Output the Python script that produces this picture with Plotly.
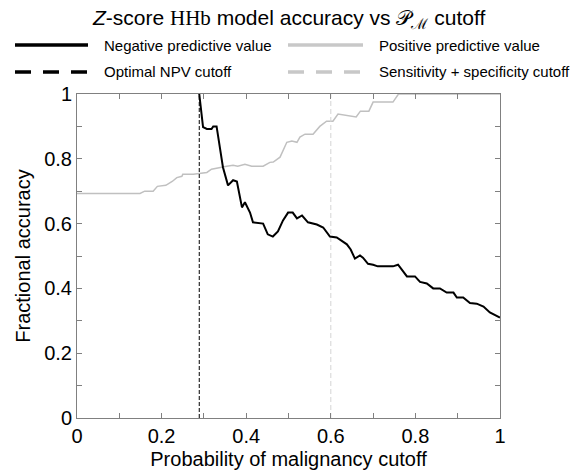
import plotly.graph_objects as go

# ---------------- data ----------------
npv_x = [0.289, 0.298, 0.307, 0.318, 0.322, 0.330, 0.345, 0.357, 0.369, 0.378,
         0.390, 0.397, 0.409, 0.416, 0.440, 0.451, 0.463, 0.475, 0.487, 0.499,
         0.510, 0.520, 0.532, 0.546, 0.567, 0.582, 0.598, 0.614, 0.638, 0.647,
         0.657, 0.669, 0.676, 0.688, 0.700, 0.711, 0.747, 0.759, 0.780, 0.799,
         0.811, 0.827, 0.842, 0.858, 0.874, 0.890, 0.898, 0.913, 0.929, 0.945,
         0.961, 0.976, 1.000]
npv_y = [1.000, 0.898, 0.892, 0.892, 0.900, 0.900, 0.774, 0.718, 0.734, 0.730,
         0.650, 0.666, 0.634, 0.604, 0.600, 0.567, 0.560, 0.576, 0.610, 0.634,
         0.634, 0.616, 0.625, 0.604, 0.597, 0.588, 0.560, 0.557, 0.536, 0.520,
         0.492, 0.502, 0.495, 0.476, 0.473, 0.468, 0.468, 0.473, 0.437, 0.437,
         0.420, 0.415, 0.400, 0.400, 0.387, 0.387, 0.372, 0.372, 0.355, 0.353,
         0.344, 0.326, 0.310]

ppv_x = [0.000, 0.149, 0.160, 0.180, 0.190, 0.210, 0.225, 0.236, 0.248, 0.250,
         0.275, 0.290, 0.307, 0.318, 0.338, 0.354, 0.369, 0.380, 0.397, 0.413,
         0.440, 0.456, 0.464, 0.480, 0.496, 0.508, 0.520, 0.527, 0.539, 0.558,
         0.574, 0.590, 0.605, 0.617, 0.660, 0.670, 0.690, 0.700, 0.747, 0.760,
         1.000]
ppv_y = [0.693, 0.693, 0.700, 0.700, 0.715, 0.718, 0.730, 0.742, 0.746, 0.752,
         0.752, 0.755, 0.758, 0.768, 0.774, 0.777, 0.780, 0.777, 0.783, 0.777,
         0.777, 0.789, 0.790, 0.805, 0.851, 0.855, 0.851, 0.867, 0.876, 0.876,
         0.900, 0.916, 0.916, 0.938, 0.929, 0.947, 0.947, 0.975, 0.975, 1.000,
         1.000]

npv_cutoff = 0.289
sens_spec_cutoff = 0.600

series_names = ["Negative predictive value", "Positive predictive value",
                "Optimal NPV cutoff", "Sensitivity + specificity cutoff"]
tick_vals = [0.0, 0.1, 0.2, 0.3, 0.4, 0.5, 0.6, 0.7, 0.8, 0.9, 1.0]
tick_text = ["0", "", "0.2", "", "0.4", "", "0.6", "", "0.8", "", "1"]

# ---------------- styling ----------------
FONT = "Liberation Sans, Arial, sans-serif"
BLACK = "#000000"
LIGHT = "#c0c0c0"
LEG_LIGHT = "#c8c8c8"
LIGHT_DASH = "#d4d4d4"
AXIS = "#808080"

W, H = 580, 476
OFF = 8  # page body margin
# plot area in page pixels: x 77..500, y 94..418
L = 77 - OFF
T = 94 - OFF
R = W - (500 - OFF)
B = H - (418 - OFF)
PW, PH = W - L - R, H - T - B


def px_x(px):
    return (px - OFF - L) / PW


def px_y(py):
    return (H - B - (py - OFF)) / PH


fig = go.Figure()

fig.add_trace(go.Scatter(x=ppv_x, y=ppv_y, mode="lines", name=series_names[1],
                         line=dict(color=LIGHT, width=1.5), showlegend=False))
fig.add_trace(go.Scatter(x=[npv_cutoff, npv_cutoff], y=[0, 1], mode="lines",
                         name=series_names[2],
                         line=dict(color=BLACK, width=1, dash="4px,2px"),
                         showlegend=False))
fig.add_trace(go.Scatter(x=[sens_spec_cutoff, sens_spec_cutoff], y=[0, 1], mode="lines",
                         name=series_names[3],
                         line=dict(color=LIGHT_DASH, width=1, dash="5px,3px"),
                         showlegend=False))
fig.add_trace(go.Scatter(x=npv_x, y=npv_y, mode="lines", name=series_names[0],
                         line=dict(color=BLACK, width=2), showlegend=False))

# ---------------- custom legend ----------------
legend_items = [
    (series_names[0], BLACK, "solid", 15, 88, 102, 45),
    (series_names[1], LEG_LIGHT, "solid", 288, 363, 377, 45),
    (series_names[2], BLACK, "16px,12px", 15, 88, 102, 72),
    (series_names[3], LEG_LIGHT, "16px,12px", 288, 363, 377, 72),
]
for name, col, dash, x0, x1, tx, yy in legend_items:
    fig.add_shape(type="line", xref="paper", yref="paper",
                  x0=px_x(x0), x1=px_x(x1), y0=px_y(yy), y1=px_y(yy),
                  line=dict(color=col, width=3.5, dash=dash))
    fig.add_annotation(xref="paper", yref="paper", x=px_x(tx), y=px_y(yy),
                       text=name, showarrow=False, xanchor="left", yanchor="middle",
                       font=dict(family=FONT, size=15, color="#000000"))

# title as annotation centred over the plot area
fig.add_annotation(
    xref="paper", yref="paper", x=0.5, y=px_y(19),
    text="<i>Z</i>-score <span style='font-family:Liberation Serif, serif'>HHb</span>"
         " model accuracy vs 𝒫<sub>ℳ</sub> cutoff",
    showarrow=False, xanchor="center", yanchor="middle",
    font=dict(family=FONT, size=21, color="#000000"))

axis_common = dict(
    range=[0, 1], tickvals=tick_vals, ticktext=tick_text,
    ticks="inside", ticklen=5, tickcolor=AXIS, tickwidth=1,
    showline=True, linecolor=AXIS, linewidth=1, mirror="ticks",
    showgrid=False, zeroline=False,
    tickfont=dict(family=FONT, size=20, color="#000000"),
)

fig.update_layout(
    width=W, height=H,
    margin=dict(l=L, r=R, t=T, b=B, autoexpand=False),
    paper_bgcolor="white", plot_bgcolor="white",
    xaxis=dict(axis_common, title=dict(text="Probability of malignancy cutoff",
                                       font=dict(family=FONT, size=20, color="#000000"),
                                       standoff=5)),
    yaxis=dict(axis_common, title=dict(text="Fractional accuracy",
                                       font=dict(family=FONT, size=20, color="#000000"),
                                       standoff=8)),
)

fig.write_html("out.html")
